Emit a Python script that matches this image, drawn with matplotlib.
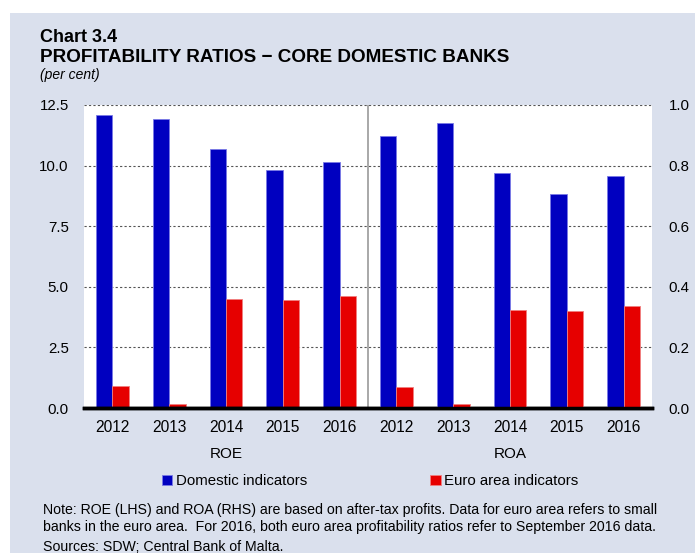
import numpy as np
import matplotlib
matplotlib.use("Agg")
import matplotlib.pyplot as plt
from matplotlib.patches import Rectangle

plt.rcParams['font.family'] = ['Liberation Sans', 'DejaVu Sans']

# Data
years = ['2012', '2013', '2014', '2015', '2016']
roe_domestic = [12.07, 11.94, 10.69, 9.82, 10.15]
roe_euro = [0.92, 0.18, 4.50, 4.44, 4.64]
roa_domestic = [0.898, 0.940, 0.775, 0.706, 0.767]
roa_euro = [0.068, 0.014, 0.324, 0.320, 0.337]
group_labels = ['ROE', 'ROA']

blue = '#0000c0'
red = '#e60000'
bg = '#dae0ed'

fig = plt.figure(figsize=(6.95, 5.53), dpi=100)
fig.patches.append(Rectangle((10 / 695, 0), 1, 1 - 13 / 553, transform=fig.transFigure,
                             facecolor=bg, edgecolor='none', zorder=-10))

ax = fig.add_axes([84 / 695, 1 - 408 / 553, (652 - 84) / 695, (408 - 105) / 553])
ax2 = ax.twinx()

n = len(years)
x_roe = np.arange(n)
x_roa = np.arange(n) + n
w = 0.29

b1 = ax.bar(x_roe - w / 2, roe_domestic, w, color=blue, edgecolor='#7a7ae6', linewidth=0.6)
b2 = ax.bar(x_roe + w / 2, roe_euro, w, color=red, edgecolor='#f08080', linewidth=0.6)
ax2.bar(x_roa - w / 2, roa_domestic, w, color=blue, edgecolor='#7a7ae6', linewidth=0.6)
ax2.bar(x_roa + w / 2, roa_euro, w, color=red, edgecolor='#f08080', linewidth=0.6)

ax.set_xlim(-0.5, 2 * n - 0.5)
ax.set_ylim(0, 12.5)
ax2.set_ylim(0, 1.0)
ax.set_yticks(np.arange(0, 12.6, 2.5))
ax.set_yticklabels([f'{v:.1f}' for v in np.arange(0, 12.6, 2.5)])
ax2.set_yticks(np.arange(0, 1.01, 0.2))
ax2.set_yticklabels([f'{v:.1f}' for v in np.arange(0, 1.01, 0.2)])

ax.set_xticks(np.arange(2 * n))
ax.set_xticklabels(years + years)

ax.set_facecolor('white')
ax2.set_facecolor('none')
ax.set_axisbelow(True)
ax.grid(axis='y', color='#555555', linestyle=(0, (2, 2)), linewidth=0.8)
ax.axvline(n - 0.5, color='#9a9a9a', linewidth=1.2)

for a in (ax, ax2):
    for s in ('top', 'left', 'right'):
        a.spines[s].set_visible(False)
    a.spines['bottom'].set_linewidth(2.5)
    a.spines['bottom'].set_color('black')
    a.tick_params(length=0, labelsize=10.8, colors='black')
ax.tick_params(axis='y', pad=11)
ax2.tick_params(axis='y', pad=12)
ax.tick_params(axis='x', pad=9, labelsize=11.2)

# group labels
for i, g in enumerate(group_labels):
    fig.text((84 + 142 + i * 284) / 695, 1 - 454 / 553, g, ha='center', va='center', fontsize=11)

fig.legend([b1, b2], ['Domestic indicators', 'Euro area indicators'], ncol=2,
           loc='center', bbox_to_anchor=(370 / 695, 1 - 481 / 553), frameon=False,
           fontsize=10.8, handlelength=0.7, handleheight=0.7, handletextpad=0.25,
           columnspacing=8.2)

fig.text(40 / 695, 1 - 37 / 553, 'Chart 3.4', fontsize=13, fontweight='bold', va='center')
fig.text(40 / 695, 1 - 57 / 553, 'PROFITABILITY RATIOS \u2212 CORE DOMESTIC BANKS',
         fontsize=13.6, fontweight='bold', va='center')
fig.text(40 / 695, 1 - 75 / 553, '(per cent)', fontsize=10, style='italic', va='center')

fig.text(43 / 695, 1 - 510 / 553,
         'Note: ROE (LHS) and ROA (RHS) are based on after-tax profits. Data for euro area refers to small',
         fontsize=10.2, va='center')
fig.text(43 / 695, 1 - 527 / 553,
         'banks in the euro area.  For 2016, both euro area profitability ratios refer to September 2016 data.',
         fontsize=10.2, va='center')
fig.text(43 / 695, 1 - 547 / 553, 'Sources: SDW; Central Bank of Malta.', fontsize=10.2, va='center')

fig.savefig('out.png', dpi=100)
